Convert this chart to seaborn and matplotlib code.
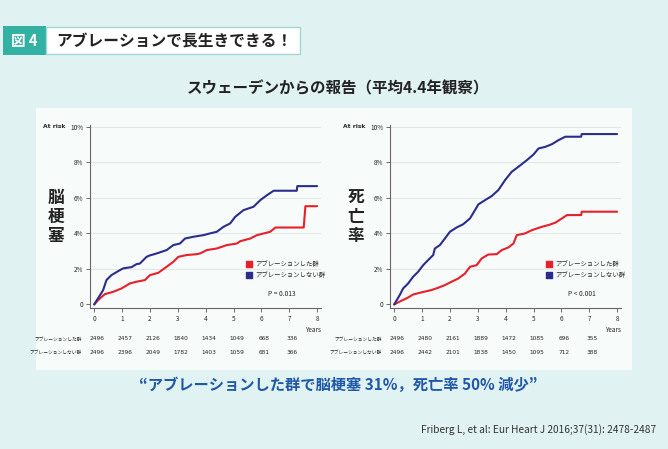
import matplotlib
matplotlib.use("Agg")
import matplotlib.pyplot as plt
from matplotlib.patches import Rectangle
import seaborn as sns
import pandas as pd

sns.set_style("white")
plt.rcParams['font.family'] = ['Noto Sans CJK JP', 'DejaVu Sans']

# --- data (years, cumulative %) ---
stroke_abl_t = [0, 0.14, 0.38, 0.68, 0.98, 1.28, 1.52, 1.82, 2.0, 2.3, 2.6, 2.84, 3.02, 3.32,
                3.68, 3.8, 4.04, 4.4, 4.76, 5.12, 5.24, 5.6, 5.84, 6.32, 6.5, 7.52, 7.55, 7.58, 8.0]
stroke_abl_y = [0, 0.24, 0.58, 0.71, 0.9, 1.18, 1.28, 1.37, 1.65, 1.78, 2.12, 2.4, 2.68, 2.78,
                2.83, 2.87, 3.06, 3.15, 3.34, 3.43, 3.56, 3.71, 3.9, 4.09, 4.33, 4.33, 4.93, 5.53, 5.53]
stroke_no_t = [0, 0.1, 0.2, 0.32, 0.44, 0.62, 0.92, 1.04, 1.34, 1.52, 1.64, 1.88, 2.0, 2.24, 2.6,
               2.84, 3.08, 3.26, 3.56, 3.92, 4.16, 4.4, 4.64, 4.88, 5.06, 5.36, 5.72, 5.96, 6.2,
               6.44, 7.27, 7.29, 8.0]
stroke_no_y = [0, 0.25, 0.5, 0.8, 1.37, 1.65, 1.93, 2.03, 2.1, 2.27, 2.3, 2.68, 2.76, 2.87, 3.06,
               3.34, 3.43, 3.71, 3.81, 3.9, 4.0, 4.09, 4.37, 4.56, 4.93, 5.31, 5.5, 5.87, 6.15,
               6.4, 6.4, 6.66, 6.66]

death_abl_t = [0, 0.26, 0.5, 0.68, 0.98, 1.34, 1.58, 1.82, 2.06, 2.3, 2.54, 2.72, 2.96, 3.14, 3.38,
               3.68, 3.86, 4.1, 4.28, 4.4, 4.7, 4.94, 5.3, 5.54, 5.78, 6.02, 6.2, 6.71, 6.73, 8.0]
death_abl_y = [0, 0.21, 0.39, 0.56, 0.68, 0.81, 0.94, 1.09, 1.28, 1.46, 1.74, 2.12, 2.21, 2.59,
               2.81, 2.83, 3.06, 3.21, 3.43, 3.9, 4.0, 4.18, 4.37, 4.47, 4.6, 4.84, 5.03, 5.03,
               5.22, 5.22]
death_no_t = [0, 0.2, 0.32, 0.5, 0.68, 0.86, 1.04, 1.22, 1.4, 1.46, 1.64, 1.82, 2.0, 2.24, 2.48,
              2.72, 2.9, 3.02, 3.26, 3.5, 3.74, 3.98, 4.22, 4.46, 4.76, 5.0, 5.18, 5.42, 5.66,
              5.9, 6.14, 6.71, 6.73, 8.0]
death_no_y = [0, 0.53, 0.9, 1.18, 1.56, 1.84, 2.21, 2.5, 2.78, 3.15, 3.34, 3.71, 4.09, 4.33, 4.52,
              4.84, 5.31, 5.63, 5.87, 6.1, 6.44, 7.0, 7.47, 7.75, 8.12, 8.44, 8.78, 8.87, 9.02,
              9.25, 9.44, 9.44, 9.59, 9.59]

years = [0, 1, 2, 3, 4, 5, 6, 7]
stroke_risk_abl = [2496, 2457, 2126, 1840, 1434, 1049, 668, 336]
stroke_risk_no = [2496, 2396, 2049, 1782, 1403, 1059, 681, 366]
death_risk_abl = [2496, 2480, 2161, 1889, 1472, 1085, 696, 355]
death_risk_no = [2496, 2442, 2101, 1838, 1450, 1095, 712, 388]

groups = ["アブレーションした群", "アブレーションしない群"]
y_ticks = [0, 2, 4, 6, 8, 10]
y_ticklabels = ["0", "2%", "4%", "6%", "8%", "10%"]

RED = "#e8202a"
BLUE = "#2b2c8e"
BG = "#e1f2f2"
TEAL = "#33b1a3"
PANEL = "#f7fbfa"

W, H = 668, 449
fig = plt.figure(figsize=(W / 100, H / 100), dpi=100, facecolor=BG)


def fx(x):
    return x / W


def fy(y):
    return 1 - y / H


# header boxes
fig.patches.append(Rectangle((fx(3), fy(55)), fx(43), 29 / H, transform=fig.transFigure,
                             facecolor=TEAL, edgecolor="none", zorder=-5))
fig.patches.append(Rectangle((fx(46), fy(54)), fx(254), 27 / H, transform=fig.transFigure,
                             facecolor="white", edgecolor="#9fd8cf", lw=1, zorder=-5))
fig.text(fx(24), fy(41), "図 4", color="white", fontsize=10.5, fontweight="bold",
         ha="center", va="center")
fig.text(fx(56), fy(41), "アブレーションで長生きできる！", color="#222222", fontsize=11.3,
         fontweight="bold", ha="left", va="center")
fig.text(fx(338), fy(88), "スウェーデンからの報告（平均4.4年観察）", color="#222222",
         fontsize=11.2, fontweight="bold", ha="center", va="center")

# white panel
fig.patches.append(Rectangle((fx(36), fy(370)), fx(596), 262 / H, transform=fig.transFigure,
                             facecolor=PANEL, edgecolor="none", zorder=-10))

panels = [
    (90, "脳梗塞", stroke_abl_t, stroke_abl_y, stroke_no_t, stroke_no_y,
     stroke_risk_abl, stroke_risk_no, "P = 0.013"),
    (390, "死亡率", death_abl_t, death_abl_y, death_no_t, death_no_y,
     death_risk_abl, death_risk_no, "P < 0.001"),
]

for left, label, at, ay, nt, ny, risk_a, risk_n, ptxt in panels:
    ax = fig.add_axes([fx(left), fy(308), 231 / W, 183 / H])
    ax.set_facecolor(PANEL)
    df = pd.concat([
        pd.DataFrame({"t": at, "v": ay, "g": groups[0]}),
        pd.DataFrame({"t": nt, "v": ny, "g": groups[1]}),
    ])
    sns.lineplot(data=df, x="t", y="v", hue="g", palette=[RED, BLUE], estimator=None,
                 sort=False, lw=1.5, legend=False, ax=ax)
    ax.set_xlim(-0.15, 8.14)
    ax.set_ylim(-0.2, 10.1)
    ax.set_yticks(y_ticks)
    ax.set_yticklabels(y_ticklabels)
    ax.set_xticks(range(9))
    ax.tick_params(axis="both", length=3, width=0.6, color="#555555", labelsize=4.6,
                   pad=2, direction="out", left=True, bottom=True)
    for s in ["top", "right"]:
        ax.spines[s].set_visible(False)
    for s in ["left", "bottom"]:
        ax.spines[s].set_color("#666666")
        ax.spines[s].set_linewidth(0.8)
    for yv in y_ticks[1:]:
        ax.axhline(yv, color="#dde3e3", lw=0.6, zorder=0)
    ax.set_xlabel("")
    ax.set_ylabel("")
    ax.text(-0.105, 10, "At risk", fontsize=4.3, fontweight="bold", ha="right", va="center",
            family="DejaVu Sans", transform=ax.get_yaxis_transform())
    ax.text(8.14, -1.45, "Years", fontsize=4.6, ha="right", va="center")

    # legend
    for i, (c, g) in enumerate(zip([RED, BLUE], groups)):
        yv = 2.3 - i * 0.62
        ax.scatter([5.55], [yv], marker="s", s=22, color=c, zorder=5)
        ax.text(5.78, yv, g, fontsize=4.6, ha="left", va="center")
    ax.text(6.75, 0.56, ptxt, fontsize=4.8, ha="center", va="center", style="italic")

    # vertical label
    cx = left - 34
    for k, ch in enumerate(label):
        fig.text(fx(cx), fy(198 + k * 19), ch, fontsize=12, fontweight="bold",
                 ha="center", va="center", color="#222222")

    # at-risk table
    for r, (g, vals) in enumerate(zip(groups, [risk_a, risk_n])):
        yrow = fy(339 + r * 13)
        fig.text(fx(left - 8), yrow, g, fontsize=3.4, ha="right", va="center")
        for yr, v in zip(years, vals):
            xpix = left + (yr + 0.15) * (231 / 8.29) + 3
            fig.text(fx(xpix), yrow, str(v), fontsize=4.2, ha="center", va="center",
                     family="DejaVu Sans")

fig.text(fx(338), fy(385), "“アブレーションした群で脳梗塞 31%，死亡率 50% 減少”",
         color="#1f58a8", fontsize=11, fontweight="bold", ha="center", va="center")
fig.text(fx(656), fy(430), "Friberg L, et al: Eur Heart J 2016;37(31): 2478-2487",
         color="#333333", fontsize=7.3, ha="right", va="center")

fig.savefig("out.png", dpi=100, facecolor=BG)
